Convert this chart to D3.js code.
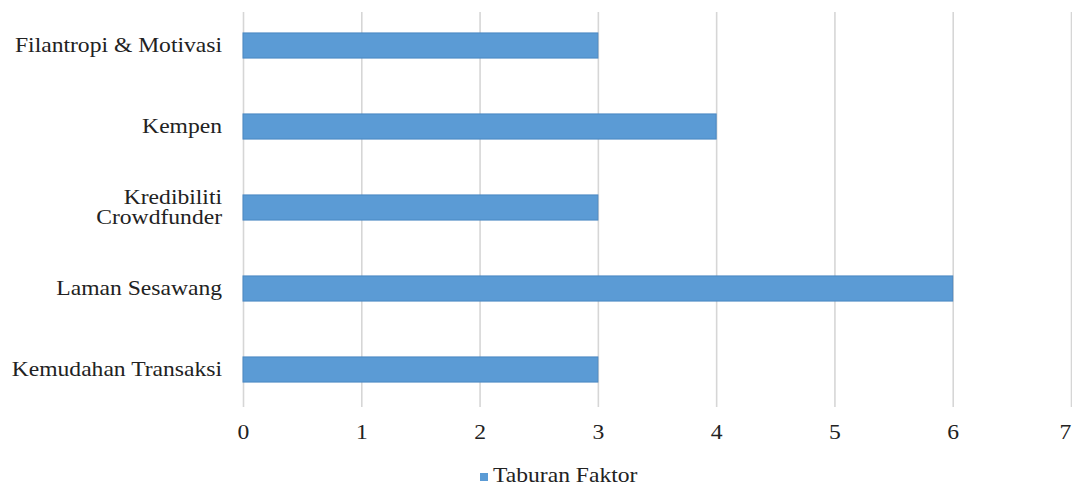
<!DOCTYPE html>
<html>
<head>
<meta charset="utf-8">
<script src="https://cdn.jsdelivr.net/npm/d3@7"></script>
<style>
  html, body { margin: 0; padding: 0; background: #fff; }
  svg { display: block; }
</style>
</head>
<body>
<svg id="chart" width="1072" height="487"></svg>
<script>
const categories = ["Filantropi & Motivasi", "Kempen", "Kredibiliti Crowdfunder", "Laman Sesawang", "Kemudahan Transaksi"];
const categoryLines = [["Filantropi & Motivasi"], ["Kempen"], ["Kredibiliti", "Crowdfunder"], ["Laman Sesawang"], ["Kemudahan Transaksi"]];
const values = [3, 4, 3, 6, 3];
const xTicks = [0, 1, 2, 3, 4, 5, 6, 7];
const seriesName = "Taburan Faktor";

const FONT = "'Liberation Serif', Tinos, 'Times New Roman', 'DejaVu Serif', serif";
const svg = d3.select("#chart").style("font-family", FONT);
const stretch = 1.18;
const fontSize = 20;

const x = d3.scaleLinear().domain([0, 7]).range([243, 1071]);
const y = d3.scaleBand().domain(categories).range([5, 410]).paddingInner(0.69).paddingOuter(0.345);

const gridTop = 12, gridBottom = 407;

// gridlines + tick labels via axis
const axis = d3.axisBottom(x).tickValues(xTicks).tickSize(-(gridBottom - gridTop)).tickFormat(d3.format("d"));
const ax = svg.append("g").attr("transform", `translate(0,${gridBottom})`).call(axis)
  .attr("font-family", FONT);
ax.select(".domain").remove();
ax.selectAll(".tick line").attr("stroke", "#d6d6d6").attr("stroke-width", 1.6);
ax.selectAll(".tick text")
  .attr("y", 0).attr("dy", null)
  .attr("transform", d => `translate(${d === 7 ? -6 : 0},32) scale(${stretch},1)`)
  .attr("font-size", fontSize)
  .attr("fill", "#222")
  .attr("font-family", FONT);

// bars
svg.append("g").selectAll("rect").data(categories).join("rect")
  .attr("x", x(0))
  .attr("y", d => y(d))
  .attr("width", (d, i) => x(values[i]) - x(0))
  .attr("height", y.bandwidth())
  .attr("fill", "#5B9BD5")
  .attr("stroke", "#4a87c2")
  .attr("stroke-width", 1);

// category labels
const labels = svg.append("g").selectAll("text").data(categories).join("text")
  .attr("text-anchor", "end")
  .attr("font-family", FONT)
  .attr("font-size", fontSize)
  .attr("fill", "#222")
  .attr("transform", d => `translate(222,${y(d) + y.bandwidth() / 2}) scale(${stretch},1)`);
labels.each(function(d, i) {
  const lines = categoryLines[i];
  const t = d3.select(this);
  const lh = 20;
  const start = -(lines.length - 1) * lh / 2;
  lines.forEach((ln, k) => {
    t.append("tspan").attr("x", 0).attr("y", start + k * lh).attr("dy", "0.33em").text(ln);
  });
});

// legend
const lg = svg.append("g");
lg.append("rect").attr("x", 480).attr("y", 473).attr("width", 8).attr("height", 8).attr("fill", "#5B9BD5");
lg.append("text").attr("font-size", fontSize).attr("font-family", FONT).attr("fill", "#222")
  .attr("transform", `translate(493,482) scale(${stretch},1)`)
  .text(seriesName);
</script>
</body>
</html>
